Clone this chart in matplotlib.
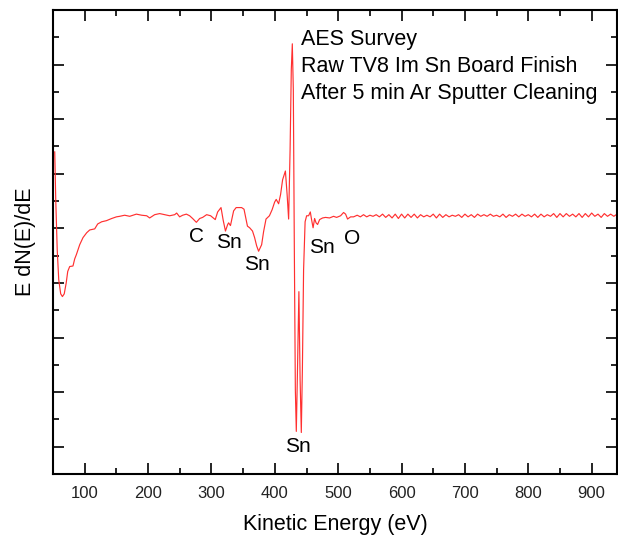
import matplotlib.pyplot as plt
from matplotlib.ticker import MultipleLocator, NullFormatter

plt.rcParams['font.family'] = ['Liberation Sans', 'DejaVu Sans']

# AES survey spectrum (eV, arbitrary units)
energy_low = [52.7, 54.3, 56.6, 59.0, 62.1, 64.8, 67.7, 70.8, 73.2, 76.3,
              81.5, 84.2, 86.9, 92.1, 97.3, 103.2, 107.9, 115.8, 120.5, 126.8,
              134.2, 142.6, 150.0, 155.2, 163.1, 171.0, 181.5, 189.9, 197.8, 202.5,
              210.4, 218.3, 226.2, 234.1, 242.0, 245.1, 249.8, 254.6, 260.4, 265.6,
              270.3, 276.2, 281.4, 286.1, 292.4, 298.7, 306.0, 309.8, 315.1, 318.5,
              322.1, 325.6, 327.1, 330.0, 335.0, 339.0, 343.4, 347.6, 351.4, 353.9,
              356.8, 360.3, 364.8, 368.1, 371.3, 374.4, 379.2, 382.3, 386.1, 391.5,
              395.7, 399.7, 402.2, 406.0, 409.1, 412.3, 416.7, 419.4, 421.8, 424.1,
              426.0, 427.6, 429.2, 430.8, 432.4, 433.9, 435.5, 438.0, 439.9, 441.8,
              443.5, 445.4, 447.8, 450.2, 453.3, 456.0, 458.0, 460.4, 462.8, 465.1,
              467.5, 470.7, 475.4, 480.1, 486.4, 492.7, 497.5, 503.8, 508.5, 511.7,
              514.8, 519.6, 524.3]
signal_low = [5.40, 4.52, 3.61, 3.06, 2.80, 2.75, 2.80, 3.00, 3.21, 3.30,
              3.31, 3.44, 3.52, 3.70, 3.83, 3.92, 3.97, 3.99, 4.08, 4.12,
              4.14, 4.18, 4.21, 4.22, 4.24, 4.22, 4.26, 4.24, 4.23, 4.19,
              4.25, 4.27, 4.25, 4.23, 4.25, 4.28, 4.21, 4.24, 4.26, 4.23,
              4.18, 4.11, 4.18, 4.20, 4.25, 4.23, 4.16, 4.30, 4.38, 4.15,
              3.95, 4.07, 4.10, 4.05, 4.32, 4.38, 4.38, 4.38, 4.35, 4.21,
              4.04, 4.01, 3.95, 3.83, 3.68, 3.58, 3.70, 3.94, 4.17, 4.23,
              4.34, 4.48, 4.53, 4.45, 4.62, 4.89, 5.05, 4.62, 4.17, 5.44,
              6.90, 7.38, 6.54, 3.61, 1.04, 0.28, 1.23, 2.84, 1.23, 0.26,
              1.41, 3.24, 4.12, 4.23, 4.23, 4.30, 4.16, 4.01, 4.18, 4.10,
              4.07, 4.16, 4.19, 4.20, 4.19, 4.22, 4.20, 4.23, 4.29, 4.26,
              4.17, 4.21, 4.21]
energy_high = list(range(530, 945, 5))
signal_high = [4.24, 4.21, 4.25, 4.21, 4.24, 4.22, 4.25, 4.21, 4.26, 4.20,
               4.25, 4.19, 4.26, 4.18, 4.26, 4.19, 4.26, 4.20, 4.26, 4.19,
               4.25, 4.21, 4.24, 4.21, 4.26, 4.19, 4.26, 4.20, 4.25, 4.21,
               4.24, 4.22, 4.25, 4.20, 4.26, 4.21, 4.25, 4.20, 4.26, 4.22,
               4.25, 4.22, 4.26, 4.22, 4.24, 4.21, 4.26, 4.20, 4.25, 4.22,
               4.26, 4.21, 4.26, 4.22, 4.25, 4.21, 4.26, 4.20, 4.26, 4.21,
               4.25, 4.22, 4.27, 4.20, 4.27, 4.21, 4.27, 4.22, 4.26, 4.21,
               4.27, 4.20, 4.27, 4.21, 4.28, 4.22, 4.26, 4.20, 4.27, 4.22,
               4.26, 4.22, 4.26]

energy = energy_low + energy_high
signal = signal_low + signal_high

# peak labels
peak_names = ['C', 'Sn', 'Sn', 'Sn', 'O', 'Sn']
peak_x = [276, 327, 371, 475, 522, 437]
peak_y = [3.85, 3.74, 3.33, 3.64, 3.81, 0.0]

title_lines = ['AES Survey', 'Raw TV8 Im Sn Board Finish', 'After 5 min Ar Sputter Cleaning']
title_y = [7.36, 6.87, 6.36]

fig = plt.figure(figsize=(6.18, 5.44), dpi=100)
ax = fig.add_axes([0.0858, 0.1287, 0.9126, 0.853])

ax.plot(energy, signal, color='#ff3030', lw=0.85)

for name, x, y in zip(peak_names, peak_x, peak_y):
    ax.text(x, y, name, fontsize=15, ha='center', va='center')

for line, y in zip(title_lines, title_y):
    ax.text(442, y, line, fontsize=15.5, ha='left', va='baseline')

ax.set_xlim(50, 940)
ax.set_ylim(-0.5, 8.0)
ax.xaxis.set_major_locator(MultipleLocator(100))
ax.xaxis.set_minor_locator(MultipleLocator(50))
ax.yaxis.set_major_locator(MultipleLocator(1))
ax.yaxis.set_minor_locator(MultipleLocator(0.5))
ax.yaxis.set_major_formatter(NullFormatter())

ax.tick_params(which='both', direction='in', top=True, right=True, width=1.2)
ax.tick_params(which='major', length=8)
ax.tick_params(which='minor', length=4)
ax.tick_params(axis='x', labelsize=12, pad=9, labelcolor='#222222')
for s in ax.spines.values():
    s.set_linewidth(1.5)

ax.set_xlabel('Kinetic Energy (eV)', fontsize=15.5, labelpad=9)
ax.set_ylabel('E dN(E)/dE', fontsize=15.5, labelpad=9)

fig.savefig('out.png', dpi=100)
